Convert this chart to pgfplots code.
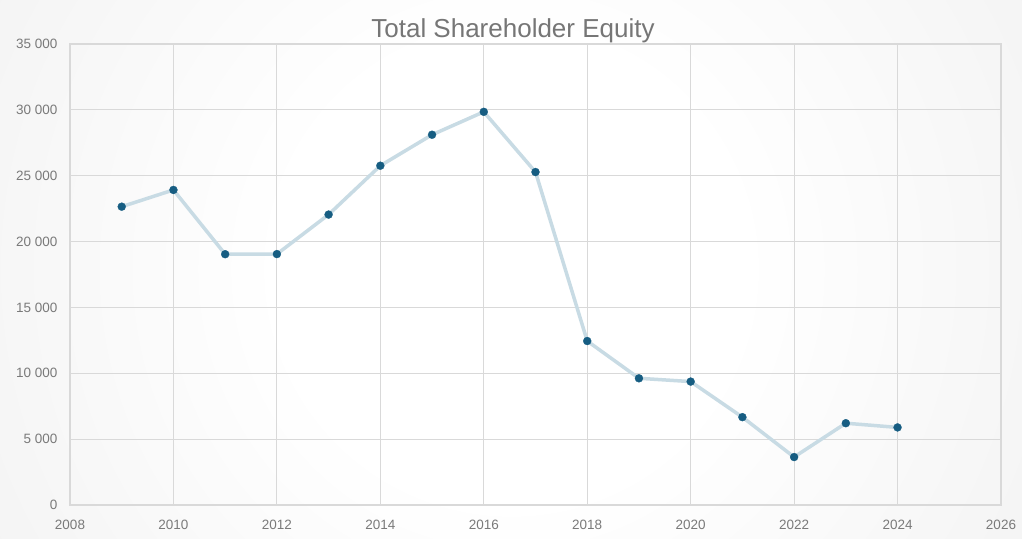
\documentclass[border=0pt]{standalone}
\usepackage{pgfplots}
\pgfplotsset{compat=1.18}
\usepackage{fontspec}
\setmainfont{Liberation Sans}
\definecolor{gridc}{HTML}{D9D9D9}
\definecolor{linec}{HTML}{C8DBE4}
\definecolor{markc}{HTML}{165D82}
\definecolor{txtc}{HTML}{7A7A7A}
\definecolor{titc}{HTML}{767676}
\pgfdeclareradialshading{bgshade}{\pgfpoint{0bp}{0bp}}{color(0bp)=(white); color(5bp)=(white); color(25bp)=(black!11); color(50bp)=(black!11)}
\begin{document}
\begin{tikzpicture}
\begin{scope}
\clip (0pt,0pt) rectangle (1022pt,538pt);
\shade[shading=bgshade] (511pt,269pt) circle (1154pt);
\end{scope}
\node[anchor=base, text=titc, font=\fontsize{26}{30}\selectfont] at (513pt,500pt) {Total Shareholder Equity};
\begin{axis}[
  at={(70pt,33pt)}, anchor=south west,
  scale only axis, width=931pt, height=461pt,
  xmin=2008, xmax=2026, ymin=0, ymax=35000,
  xtick={2008,2010,...,2026},
  ytick={0,5000,...,35000},
  scaled y ticks=false,
  grid=major,
  major grid style={draw=gridc, line width=1.2pt},
  axis line style={draw=gridc, line width=1.2pt},
  tick style={draw=none},
  ticklabel style={font=\fontsize{13.5}{15}\selectfont, text=txtc},
  /pgf/number format/assume math mode=true,
  yticklabel style={/pgf/number format/1000 sep={\ }, xshift=-9pt},
  xticklabel style={/pgf/number format/1000 sep={}, yshift=-12pt},
]
\addplot[color=linec, line width=3.5pt, mark=*, mark size=4pt, mark options={draw=markc, fill=markc, line width=0.3pt}] coordinates {
(2009,22650) (2010,23920) (2011,19040) (2012,19050) (2013,22050) (2014,25760)
(2015,28110) (2016,29850) (2017,25280) (2018,12450) (2019,9620) (2020,9370)
(2021,6670) (2022,3640) (2023,6210) (2024,5890)
};
\end{axis}
\end{tikzpicture}
\end{document}
